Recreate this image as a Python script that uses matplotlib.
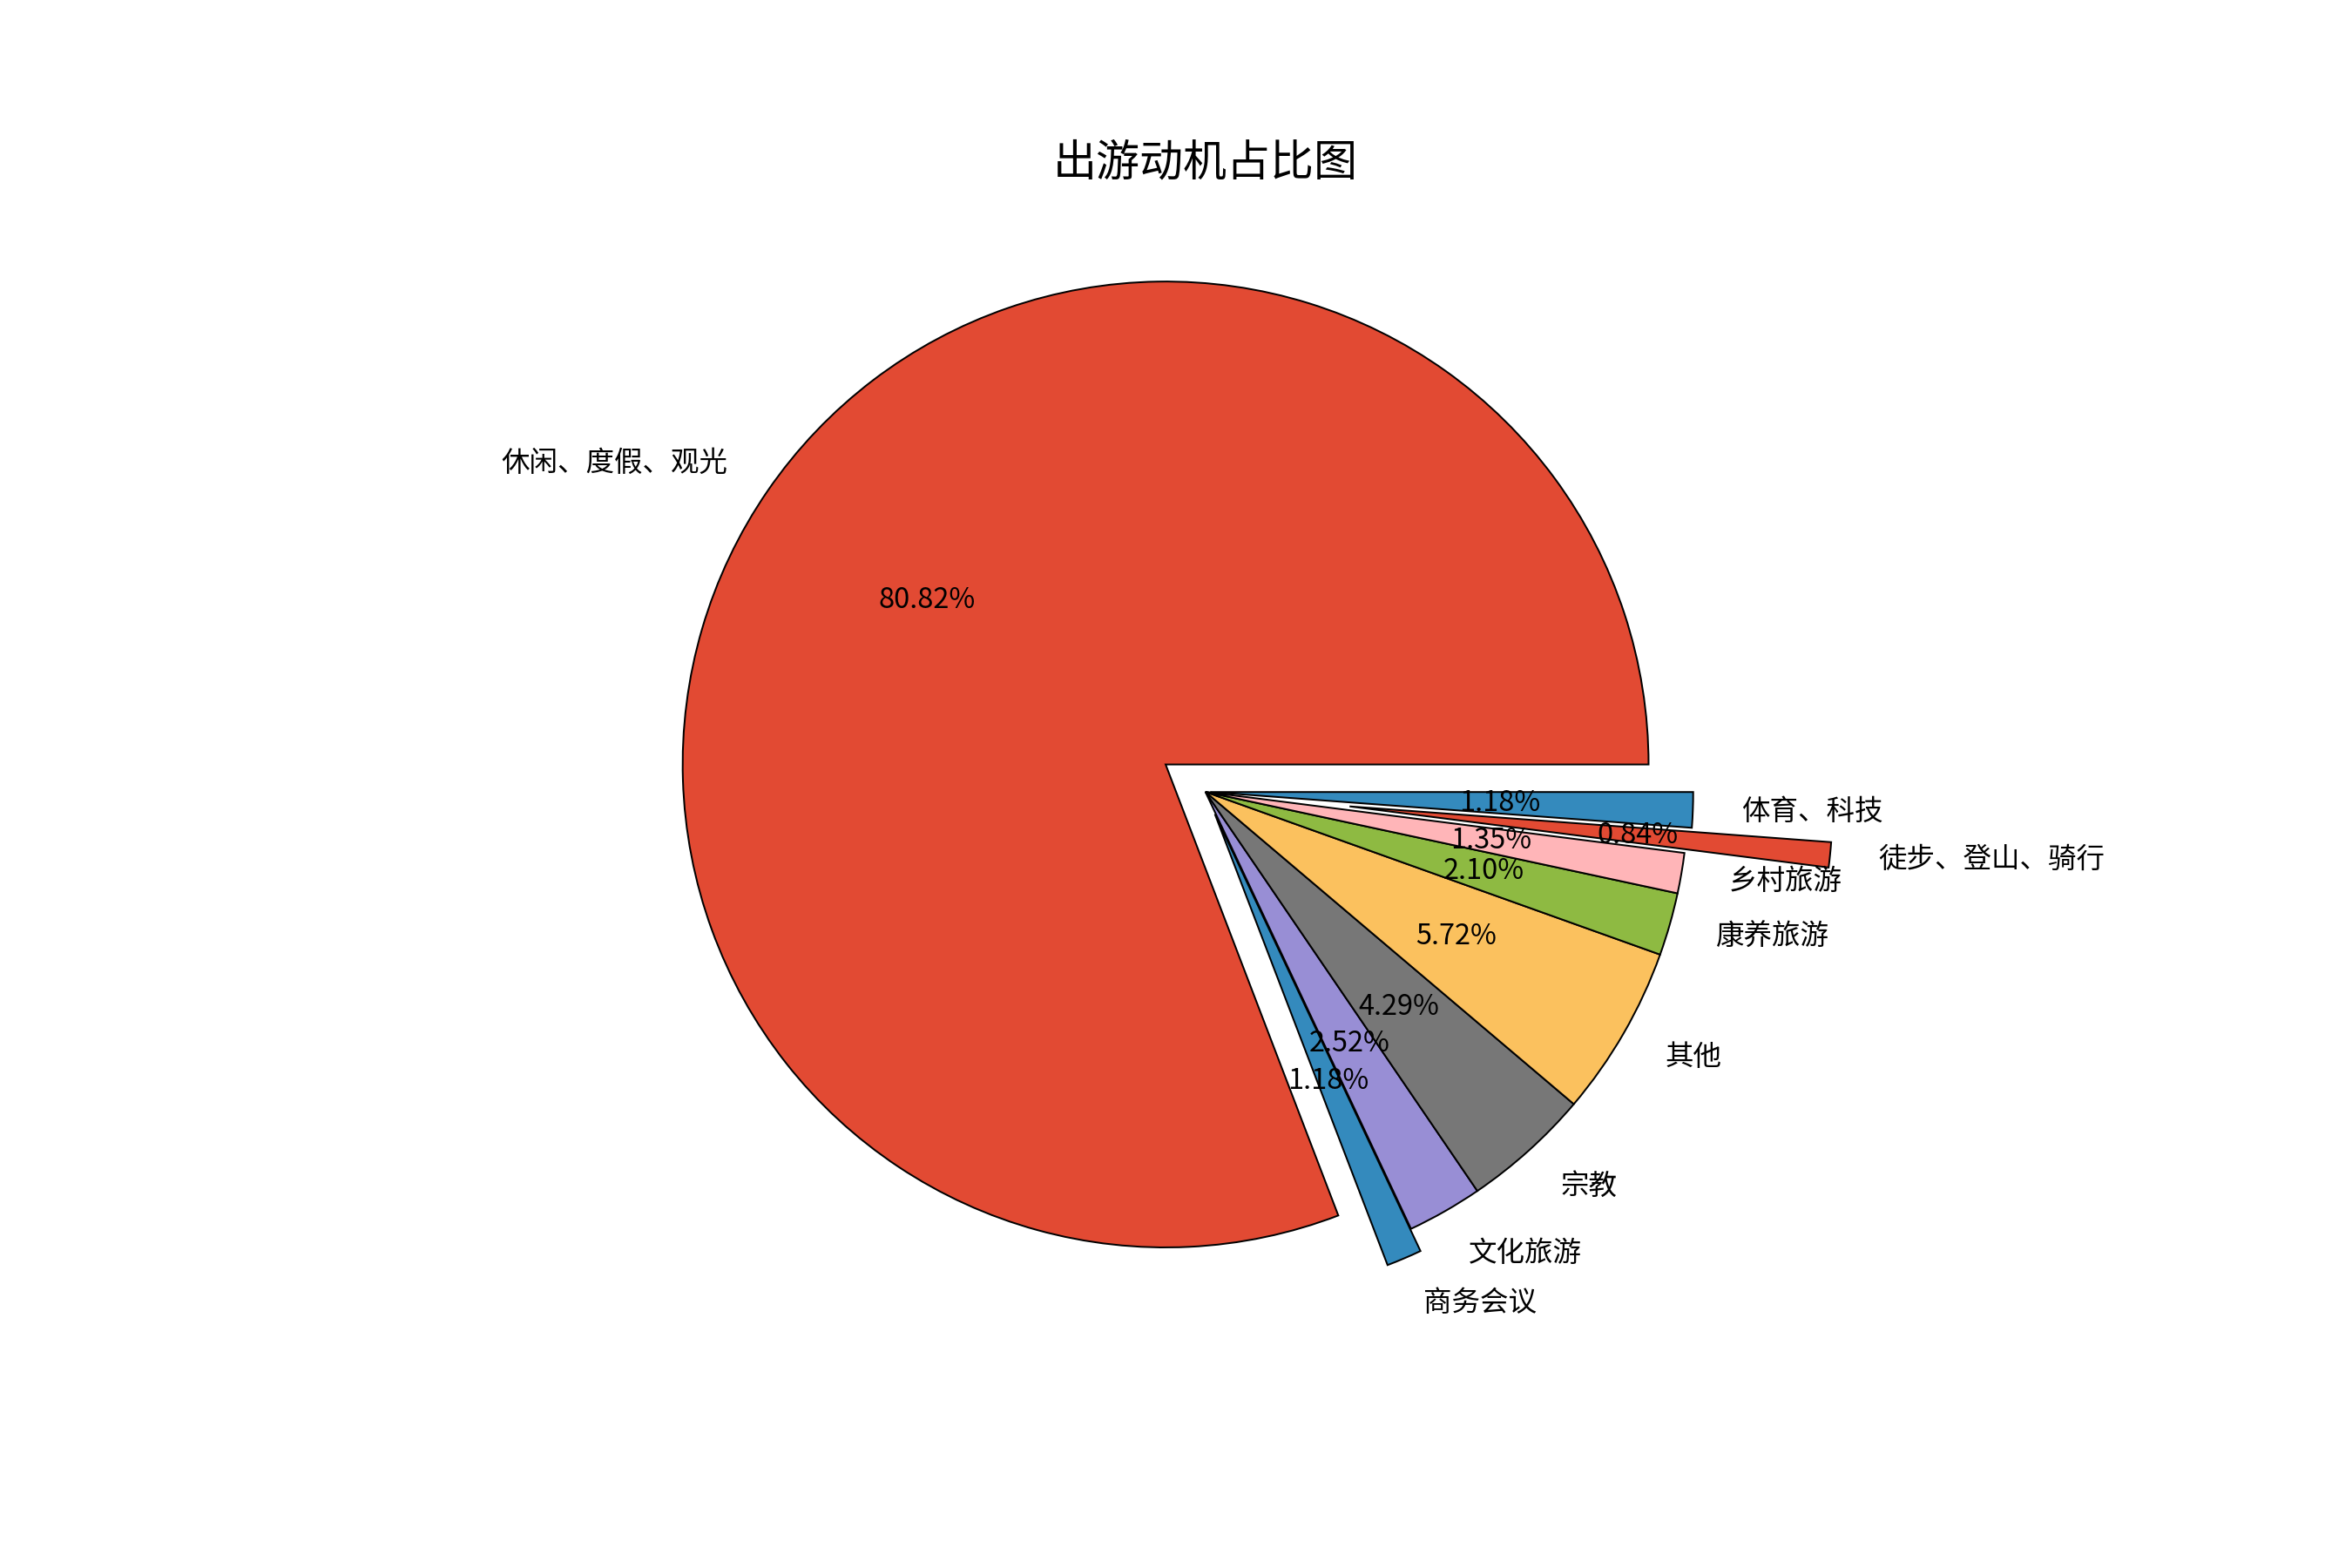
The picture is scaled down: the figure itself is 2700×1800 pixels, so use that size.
import matplotlib
matplotlib.use("Agg")
import matplotlib.pyplot as plt

plt.style.use("ggplot")
plt.rcParams['font.family'] = ['Noto Sans CJK SC', 'DejaVu Sans']

labels = ["休闲、度假、观光", "商务会议", "文化旅游", "宗教", "其他", "康养旅游", "乡村旅游", "徒步、登山、骑行", "体育、科技"]
values = [80.82, 1.18, 2.52, 4.29, 5.72, 2.10, 1.35, 0.84, 1.18]
explode = [0.1, 0.05, 0, 0, 0, 0, 0, 0.3, 0.01]

fig = plt.figure(figsize=(15, 10), dpi=180)
ax = fig.add_subplot(111)
ax.pie(values, labels=labels, explode=explode, autopct="%.2f%%",
       wedgeprops=dict(edgecolor="black", linewidth=0.8),
       textprops=dict(fontsize=13, color="black"))
ax.set_title("出游动机占比图", fontsize=20)
ax.set_aspect("equal")
fig.savefig("out.png", facecolor="white")
